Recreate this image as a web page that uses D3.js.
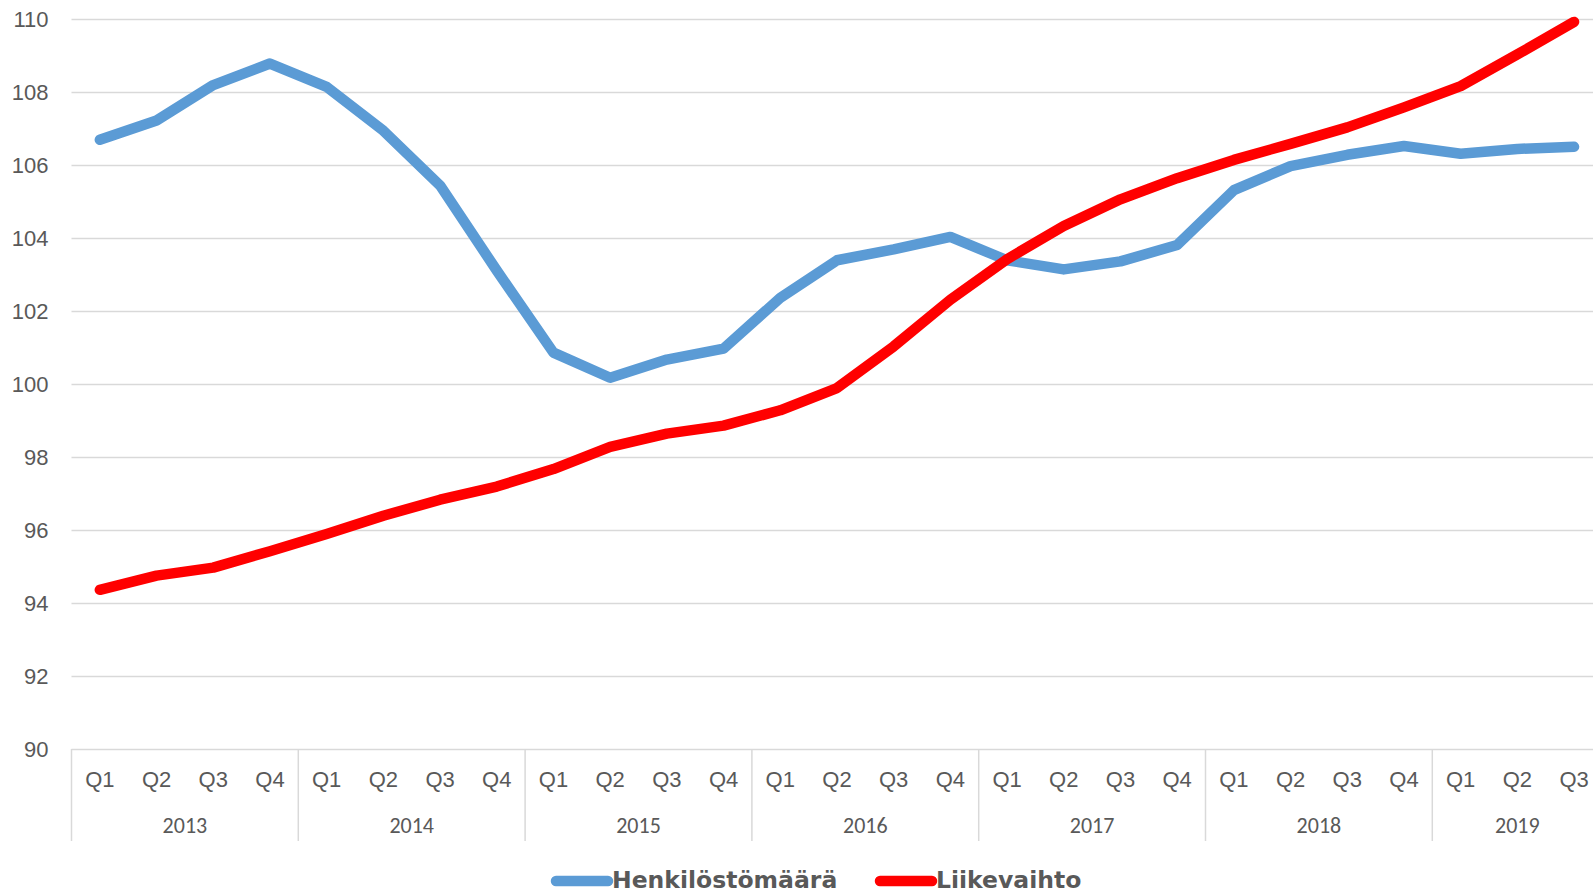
<!DOCTYPE html>
<html>
<head>
<meta charset="utf-8">
<script src="https://cdn.jsdelivr.net/npm/d3@7/dist/d3.min.js"></script>
<style>
  body { margin: 0; background: #fff; }
  svg { display: block; font-family: Carlito, Calibri, Lato, sans-serif; }
  .tick text { fill: #595959; font-size: 22px; }
  .legend text { fill: #595959; font-family: "DejaVu Sans", sans-serif; font-size: 23.5px; font-weight: bold; }
</style>
</head>
<body>
<div id="chart"></div>
<script>
(function (d3) {
  'use strict';

  // data
  var years = ['2013', '2014', '2015', '2016', '2017', '2018', '2019'];
  var quarters = ['Q1', 'Q2', 'Q3', 'Q4'];
  var henkilosto = [106.69, 107.22, 108.19, 108.78, 108.14, 106.94, 105.44, 103.11,
    100.86, 100.17, 100.67, 100.97, 102.36, 103.39, 103.69, 104.03,
    103.39, 103.14, 103.36, 103.81, 105.31, 105.97, 106.28, 106.52,
    106.31, 106.44, 106.5];
  var liikevaihto = [94.36, 94.75, 94.97, 95.42, 95.89, 96.39, 96.83, 97.19,
    97.67, 98.28, 98.64, 98.86, 99.28, 99.89, 101.03, 102.31,
    103.42, 104.33, 105.06, 105.64, 106.14, 106.58, 107.03, 107.58,
    108.16, 109.03, 109.92];
  var yTicks = [90, 92, 94, 96, 98, 100, 102, 104, 106, 108, 110];

  // categories: year + quarter, 2019 stops at Q3
  var cats = [];
  years.forEach(function (y) {
    quarters.forEach(function (q) {
      if (cats.length < henkilosto.length) cats.push({ year: y, q: q, key: y + q });
    });
  });

  var width = 1593, height = 894;
  var left = 71.5, top = 19, bottom = 749;
  var bandW = 56.7;

  var svg = d3.select('#chart').append('svg')
    .attr('width', width)
    .attr('height', height);

  var x = d3.scaleBand()
    .domain(cats.map(function (d) { return d.key; }))
    .range([left, left + bandW * cats.length])
    .padding(0);

  var y = d3.scaleLinear().domain([90, 110]).range([bottom, top]);

  // gridlines + y labels
  var yAxis = svg.append('g')
    .attr('transform', 'translate(' + left + ',0)')
    .call(d3.axisLeft(y).tickValues(yTicks).tickSize(-(width - left)).tickPadding(23));
  yAxis.select('.domain').remove();
  yAxis.selectAll('.tick line').attr('stroke', '#d9d9d9').attr('stroke-width', 1.5);
  yAxis.selectAll('.tick text').attr('dy', '0.35em');

  // quarter labels
  var xAxis = svg.append('g')
    .attr('transform', 'translate(0,' + bottom + ')')
    .call(d3.axisBottom(x).tickSize(0)
      .tickFormat(function (k, i) { return cats[i].q; }));
  xAxis.select('.domain').remove();
  xAxis.selectAll('.tick text').attr('dy', '0.35em').attr('y', 30);

  // year labels and separators
  var yearGroups = d3.groups(cats, function (d) { return d.year; });
  var yearG = svg.append('g');
  yearGroups.forEach(function (g) {
    var x0 = x(g[1][0].key);
    var cx = x0 + (g[1].length * x.bandwidth()) / 2;
    yearG.append('line')
      .attr('x1', x0).attr('x2', x0)
      .attr('y1', bottom).attr('y2', 841)
      .attr('stroke', '#d9d9d9').attr('stroke-width', 1.5);
    yearG.append('text')
      .attr('x', cx).attr('y', 825)
      .attr('dy', '0.35em')
      .attr('text-anchor', 'middle')
      .attr('fill', '#595959')
      .style('font-size', '22px')
      .text(g[0]);
  });

  // lines
  var line = d3.line()
    .x(function (d, i) { return x(cats[i].key) + x.bandwidth() / 2; })
    .y(function (d) { return y(d); });

  var series = [
    { name: 'Henkilöstömäärä', values: henkilosto, color: '#5b9bd5' },
    { name: 'Liikevaihto', values: liikevaihto, color: '#ff0000' }
  ];

  svg.selectAll('path.series')
    .data(series)
    .enter()
    .append('path')
    .attr('class', 'series')
    .attr('d', function (d) { return line(d.values); })
    .attr('fill', 'none')
    .attr('stroke', function (d) { return d.color; })
    .attr('stroke-width', 10.5)
    .attr('stroke-linejoin', 'round')
    .attr('stroke-linecap', 'round');

  // legend
  var legendX = [556, 880];
  var legend = svg.selectAll('.legend')
    .data(series)
    .enter()
    .append('g')
    .attr('class', 'legend')
    .attr('transform', function (d, i) { return 'translate(' + legendX[i] + ',881)'; });

  legend.append('line')
    .attr('x1', 0).attr('x2', 52)
    .attr('stroke', function (d) { return d.color; })
    .attr('stroke-width', 10.5)
    .attr('stroke-linecap', 'round');

  legend.append('text')
    .attr('x', 56)
    .attr('y', 6.5)
    .text(function (d) { return d.name; });

})(window.d3);
</script>
</body>
</html>
